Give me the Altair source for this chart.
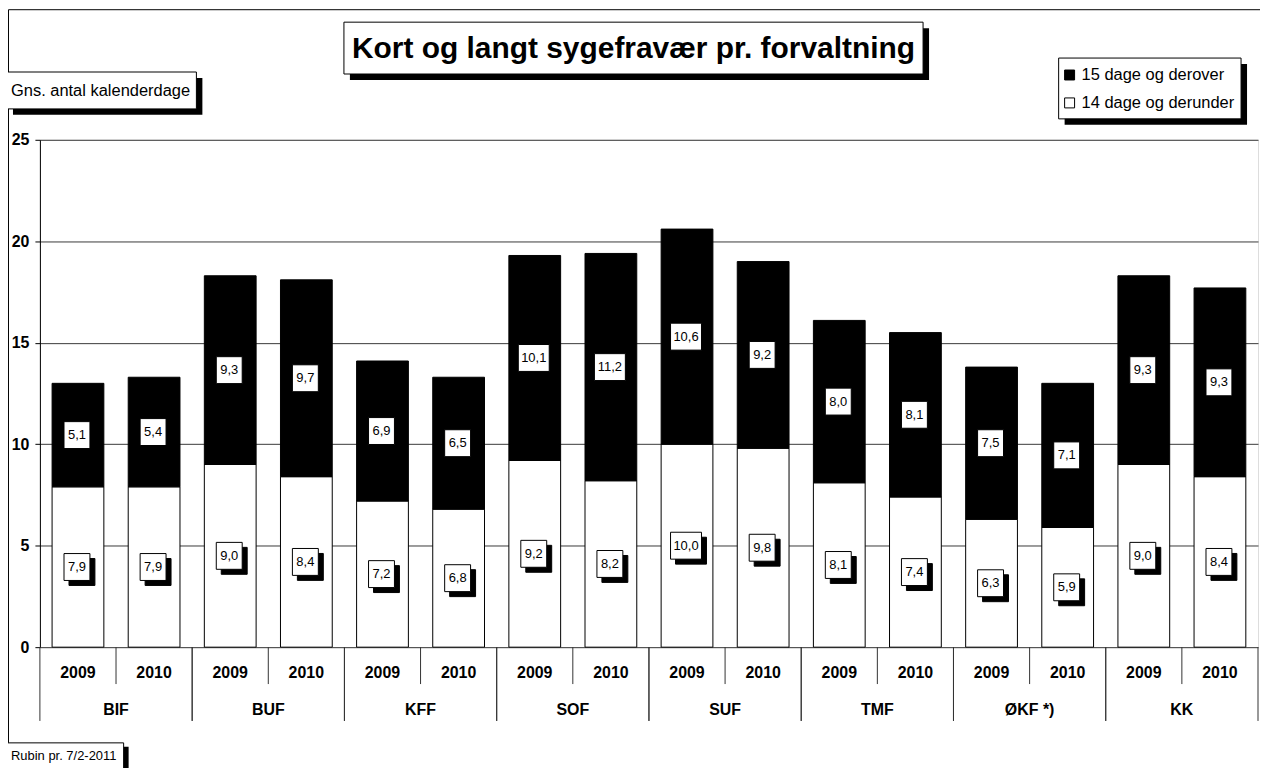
import altair as alt
import pandas as pd

groups = ["BIF", "BUF", "KFF", "SOF", "SUF", "TMF", "ØKF *)", "KK"]
years = ["2009", "2010"]
short_2009 = [7.9, 9.0, 7.2, 9.2, 10.0, 8.1, 6.3, 9.0]
short_2010 = [7.9, 8.4, 6.8, 8.2, 9.8, 7.4, 5.9, 8.4]
long_2009 = [5.1, 9.3, 6.9, 10.1, 10.6, 8.0, 7.5, 9.3]
long_2010 = [5.4, 9.7, 6.5, 11.2, 9.2, 8.1, 7.1, 9.3]
y_ticks = [0, 5, 10, 15, 20, 25]

FONT = "Liberation Sans"

rows = []
for i, g in enumerate(groups):
    for yr, s, l in ((years[0], short_2009[i], long_2009[i]), (years[1], short_2010[i], long_2010[i])):
        rows.append(dict(key=f"{g} {yr}", group=g, year=yr, short=s, long=l, total=round(s + l, 2)))
bars = pd.DataFrame(rows)
keys = list(bars["key"])

lab = []
for r in rows:
    for seg, v, mid in (("short", r["short"], r["short"] / 2), ("long", r["long"], r["short"] + r["long"] / 2)):
        t = f"{v:.1f}".replace(".", ",")
        lab.append(dict(key=r["key"], seg=seg, mid=mid, label=t, n=str(len(t))))
labels = pd.DataFrame(lab)

xscale = alt.Scale(domain=keys, paddingInner=0, paddingOuter=0)
yscale = alt.Scale(domain=[0, 25], nice=False)
X = alt.X("key:N", scale=xscale, axis=None)

yaxis = alt.Axis(values=y_ticks, title=None, labelFontWeight="bold", labelFontSize=16,
                 labelFont=FONT, labelColor="black", tickColor="black", tickSize=5,
                 domainColor="black", gridColor="#3a3a3a", gridWidth=1, labelPadding=6)

white = alt.Chart(bars).mark_bar(width={"band": 0.68}, fill="white", stroke="black", strokeWidth=1).encode(
    x=X, y=alt.Y("short:Q", scale=yscale, axis=yaxis))
black = alt.Chart(bars).mark_bar(width={"band": 0.68}, fill="black", stroke="black", strokeWidth=1).encode(
    x=X, y=alt.Y("total:Q", scale=yscale), y2="short:Q")

p3 = "M-0.963,-1L0.963,-1L0.963,1L-0.963,1Z"
p4 = "M-1.15,-1L1.15,-1L1.15,1L-1.15,1Z"
shape = alt.Shape("n:N", scale=alt.Scale(domain=["3", "4"], range=[p3, p4]), legend=None)

lab_shadow = alt.Chart(labels).mark_point(filled=True, fill="black", stroke="black", strokeWidth=1,
                                           opacity=1, size=729, xOffset=4, yOffset=5).encode(
    x=X, y=alt.Y("mid:Q", scale=yscale), shape=shape)
lab_box = alt.Chart(labels).mark_point(filled=True, fill="white", stroke="black", strokeWidth=1,
                                        opacity=1, size=729, xOffset=-1).encode(
    x=X, y=alt.Y("mid:Q", scale=yscale), shape=shape)
lab_text = alt.Chart(labels).mark_text(font=FONT, fontSize=13, color="black", dx=-1).encode(
    x=X, y=alt.Y("mid:Q", scale=yscale), text="label:N")

year_text = alt.Chart(bars).mark_text(font=FONT, fontSize=16, fontWeight="bold", color="black").encode(
    x=X, y=alt.value(535), text="year:N")
group_text = alt.Chart(bars).transform_filter("datum.year == '2009'").mark_text(
    font=FONT, fontSize=16, fontWeight="bold", color="black").encode(
    x=alt.X("key:N", scale=xscale, axis=None, bandPosition=1), y=alt.value(572), text="group:N")

short_rules = alt.Chart(bars).transform_filter("datum.year == '2010'").mark_rule(color="#333333", strokeWidth=1).encode(
    x=alt.X("key:N", scale=xscale, axis=None, bandPosition=0), y=alt.value(509), y2=alt.value(546))
long_rules_a = alt.Chart(bars).transform_filter("datum.year == '2009'").mark_rule(color="#333333", strokeWidth=1).encode(
    x=alt.X("key:N", scale=xscale, axis=None, bandPosition=0), y=alt.value(509), y2=alt.value(583))
long_rules_b = alt.Chart(bars).transform_filter("datum.year == '2010'").mark_rule(color="#333333", strokeWidth=1).encode(
    x=alt.X("key:N", scale=xscale, axis=None, bandPosition=1), y=alt.value(509), y2=alt.value(583))

one = pd.DataFrame({"d": [0]})


def rect(x, y, x2, y2, **kw):
    return alt.Chart(one).mark_rect(**kw).encode(
        x=alt.value(x), x2=alt.value(x2), y=alt.value(y), y2=alt.value(y2))


def text(t, x, y, **kw):
    return alt.Chart(one).mark_text(text=t, font=FONT, color="black", **kw).encode(
        x=alt.value(x), y=alt.value(y))


deco = [
    # outer frame
    rect(-31.5, -130.5, 1400, 1000, fillOpacity=0, stroke="black", strokeWidth=1),
    # title
    rect(311, -112, 892, -60, fill="black"),
    rect(305, -118, 886, -66, fill="white", stroke="black", strokeWidth=1),
    text("Kort og langt sygefravær pr. forvaltning", 595.5, -91, fontSize=30, fontWeight="bold",
         align="center", baseline="middle"),
    # y title
    rect(-27, -62, 163, -25, fill="black"),
    rect(-40, -68, 157, -31, fill="white", stroke="black", strokeWidth=1),
    text("Gns. antal kalenderdage", -29, -49, fontSize=16.5, align="left", baseline="middle"),
    # legend
    rect(1028, -76, 1211, -15, fill="black"),
    rect(1022, -82, 1205, -21, fill="white", stroke="black", strokeWidth=1),
    rect(1028, -70, 1038, -60, fill="black", stroke="black", strokeWidth=1),
    rect(1028, -42, 1038, -32, fill="white", stroke="black", strokeWidth=1),
    text("15 dage og derover", 1045, -65, fontSize=16.5, align="left", baseline="middle"),
    text("14 dage og derunder", 1045, -37, fontSize=16.5, align="left", baseline="middle"),
    # footer
    rect(-28, 609, 89, 700, fill="black"),
    rect(-40, 605, 84, 700, fill="white", stroke="black", strokeWidth=1),
    text("Rubin pr. 7/2-2011", -29, 618, fontSize=13, align="left", baseline="middle"),
]

chart = alt.layer(
    white, black, lab_shadow, lab_box, lab_text,
    year_text, group_text, short_rules, long_rules_a, long_rules_b,
    *deco
).properties(
    width=1222, height=509,
    padding={"left": 32, "top": 131, "right": 2, "bottom": 120},
    autosize=alt.AutoSizeParams(type="none"),
    background="white",
).configure_view(
    fill="#FFFFCC", stroke="#555555", strokeWidth=1
).configure(font=FONT)

chart.save("out.html", embed_options={"renderer": "svg", "actions": False})
